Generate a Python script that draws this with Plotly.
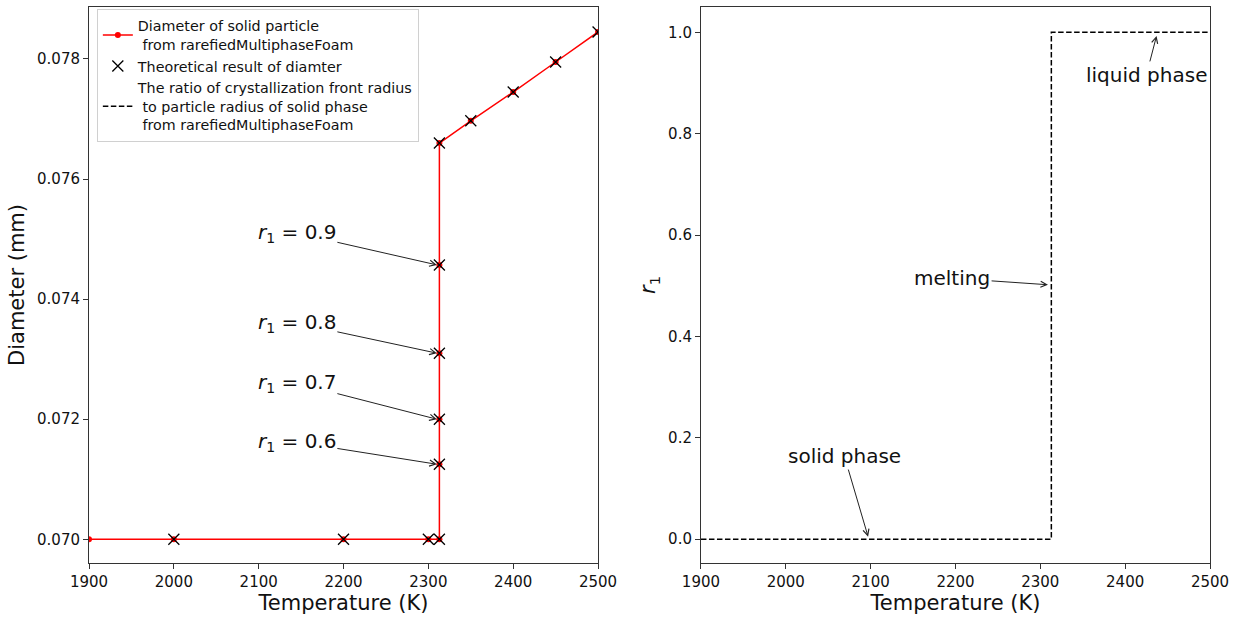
import plotly.graph_objects as go

# Simulated particle diameter (rarefiedMultiphaseFoam) vs temperature
sim_T = [1900, 2000, 2200, 2300, 2313, 2313, 2313, 2313, 2313, 2313, 2350, 2400, 2450, 2500]
sim_D = [0.0700, 0.0700, 0.0700, 0.0700, 0.0700, 0.07125, 0.0720, 0.0731, 0.07457, 0.0766,
         0.07697, 0.07745, 0.07795, 0.07845]

# Theoretical diameter
theo_T = [2000, 2200, 2300, 2313, 2313, 2313, 2313, 2313, 2313, 2350, 2400, 2450, 2500]
theo_D = [0.0700, 0.0700, 0.0700, 0.0700, 0.07125, 0.0720, 0.0731, 0.07457, 0.0766,
          0.07697, 0.07745, 0.07795, 0.07845]

# Crystallization-front radius ratio r1 vs temperature
r1_T = [1900, 2313, 2313, 2500]
r1_val = [0.0, 0.0, 1.0, 1.0]

# r1 labels on the melting line of the diameter plot
r1_labels = ["0.9", "0.8", "0.7", "0.6"]
r1_label_D = [0.07457, 0.0731, 0.0720, 0.07125]

x_ticks = [1900, 2000, 2100, 2200, 2300, 2400, 2500]
d_ticks = [0.070, 0.072, 0.074, 0.076, 0.078]
r_ticks = [0.0, 0.2, 0.4, 0.6, 0.8, 1.0]

FONT = "DejaVu Sans"
INK = "#111111"
SPINE = "#333333"

fig = go.Figure()

fig.add_trace(go.Scatter(
    x=sim_T, y=sim_D, mode="lines+markers",
    line=dict(color="red", width=1.5),
    marker=dict(color="red", size=6, symbol="circle"),
    name="Diameter of solid particle<br>\u00a0from rarefiedMultiphaseFoam",
    xaxis="x", yaxis="y",
))
fig.add_trace(go.Scatter(
    x=theo_T, y=theo_D, mode="markers",
    marker=dict(symbol="x-thin-open", size=11, line=dict(color="black", width=1.3), color="black"),
    name="Theoretical result of diamter",
    xaxis="x", yaxis="y",
))
fig.add_trace(go.Scatter(
    x=r1_T, y=r1_val, mode="lines",
    line=dict(color="black", width=1.5, dash="5.5px,2.5px"),
    name="The ratio of crystallization front radius<br>\u00a0to particle radius of solid phase<br>\u00a0from rarefiedMultiphaseFoam",
    xaxis="x2", yaxis="y2",
))

axis_common = dict(
    showline=True, mirror=True, linecolor=SPINE, linewidth=1,
    ticks="outside", ticklen=5, tickwidth=1, tickcolor=SPINE,
    showgrid=False, zeroline=False,
    tickfont=dict(family=FONT, size=15, color=INK),
    automargin=False,
)
title_font = dict(family=FONT, size=21, color=INK)

annotations = []
# r1 labels with arrows pointing at the melting points
label_D_text = [0.07510, 0.07360, 0.07260, 0.07162]
for lab, tipD, txtD in zip(r1_labels, r1_label_D, label_D_text):
    annotations.append(dict(
        x=2310, y=tipD, xref="x", yref="y",
        ax=2145, ay=txtD, axref="x", ayref="y",
        text="<i>r</i><sub>1</sub> = " + lab,
        font=dict(family=FONT, size=20, color=INK),
        showarrow=True, arrowhead=5, arrowsize=1.2, arrowwidth=1, arrowcolor="#222222",
    ))

# phase labels on the r1 plot
phase_notes = [
    ("liquid phase", 2437, 0.993, 2425, 0.916),
    ("melting", 2309, 0.502, 2196, 0.515),
    ("solid phase", 2097, 0.005, 2069, 0.164),
]
for txt, tx, ty, lx, ly in phase_notes:
    annotations.append(dict(
        x=tx, y=ty, xref="x2", yref="y2",
        ax=lx, ay=ly, axref="x2", ayref="y2",
        text=txt,
        font=dict(family=FONT, size=20, color=INK),
        showarrow=True, arrowhead=5, arrowsize=1.2, arrowwidth=1, arrowcolor="#222222",
    ))

fig.update_layout(
    width=1239, height=618,
    margin=dict(l=89, r=29, t=7, b=55),
    paper_bgcolor="white", plot_bgcolor="white",
    font=dict(family=FONT, color=INK),
    xaxis=dict(
        axis_common, domain=[0, 0.4541], range=[1900, 2500],
        tickvals=x_ticks, anchor="y",
        title=dict(text="Temperature (K)", font=title_font, standoff=3),
    ),
    yaxis=dict(
        axis_common, domain=[0, 1], range=[0.069605, 0.078866],
        tickvals=d_ticks, tickformat=".3f", anchor="x",
        title=dict(text="Diameter (mm)", font=title_font, standoff=6),
    ),
    xaxis2=dict(
        axis_common, domain=[0.5459, 1], range=[1900, 2500],
        tickvals=x_ticks, anchor="y2",
        title=dict(text="Temperature (K)", font=title_font, standoff=3),
    ),
    yaxis2=dict(
        axis_common, domain=[0, 1], range=[-0.047, 1.05],
        tickvals=r_ticks, tickformat=".1f", anchor="x2",
        title=dict(text="<i>r</i><sub>1</sub>", font=title_font, standoff=6),
    ),
    legend=dict(
        x=0.007, y=0.9964, xanchor="left", yanchor="top",
        bgcolor="rgba(255,255,255,0.85)", bordercolor="#d0d0d0", borderwidth=1,
        font=dict(family=FONT, size=14.3, color=INK),
        tracegroupgap=0,
    ),
    annotations=annotations,
    showlegend=True,
)

fig.write_html("out.html")
